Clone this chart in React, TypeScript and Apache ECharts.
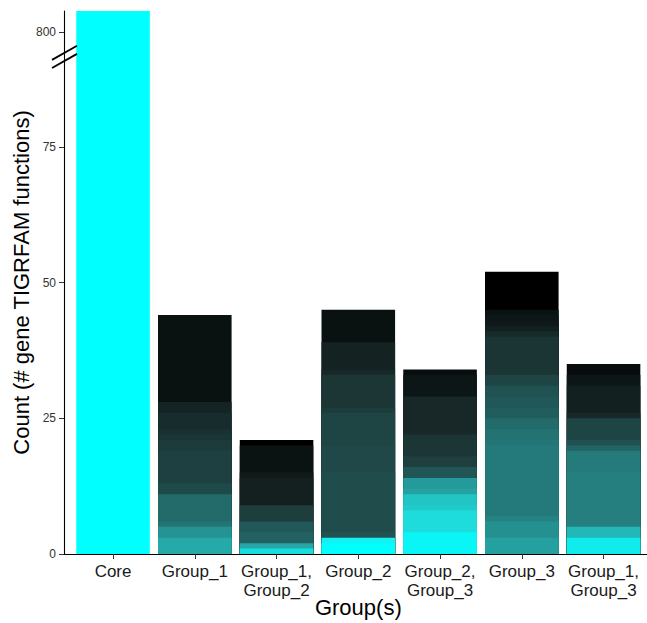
import React, { useEffect, useRef } from 'react';
import * as echarts from 'echarts';

// ---------- data ----------
const categories = ['Core', 'Group_1', 'Group_1,\nGroup_2', 'Group_2', 'Group_2,\nGroup_3', 'Group_3', 'Group_1,\nGroup_3'];

// segment counts per bar, bottom -> top
const coreCounts = [820];
const group1Counts = [3, 2, 1, 5, 2, 6, 2, 1, 1, 3, 2, 16];
const group1_2Counts = [1, 1, 2, 2, 3, 5, 1, 5, 1];
const group2Counts = [2, 1, 1, 11, 5, 6, 1, 6, 1, 5, 6];
const group2_3Counts = [4, 4, 1, 2, 1, 2, 2, 2, 4, 7, 4, 1];
const group3Counts = [3, 3, 1, 13, 1, 2, 2, 2, 2, 2, 2, 7, 1, 1, 1, 1, 1, 7];
const group1_3Counts = [3, 2, 10, 4, 1, 1, 4, 1, 5, 2, 2];

// segment fills per bar, bottom -> top
const coreColors = ['#00ffff'];
const group1Colors = ['#25a9a9', '#259393', '#247474', '#236b6b', '#1f4a4a', '#1f4040', '#1d3b3b', '#1b3434', '#193131', '#172c2c', '#142424', '#0a1211'];
const group1_2Colors = ['#19dcdc', '#26a6a6', '#236262', '#235858', '#1e3e3e', '#142020', '#111919', '#0b1212', '#000000'];
const group2Colors = ['#00ffff', '#12f2f2', '#225252', '#214c4c', '#204848', '#1f4444', '#1d3c3c', '#1c3535', '#162828', '#142222', '#0a1211'];
const group2_3Colors = ['#0af5f5', '#1edcdc', '#21caca', '#22c4c4', '#24a2a2', '#259a9a', '#215656', '#1f3e3e', '#1c3535', '#182828', '#0d1616', '#070c0c'];
const group3Colors = ['#25a0a0', '#259090', '#258282', '#247a7a', '#247676', '#247373', '#236a6a', '#225d5d', '#215757', '#205252', '#1e4444', '#1b3434', '#172a2a', '#122020', '#0f1919', '#0d1616', '#0a1313', '#000000'];
const group1_3Colors = ['#12ebeb', '#23b8b8', '#257f7f', '#257a7a', '#236565', '#205252', '#1e4444', '#182828', '#132020', '#0d1616', '#080c0c'];

const yTickLabels = [0, 25, 50, 75, 800];

// ---------- broken-axis transform ----------
const LOWER_MAX = 90; // lower panel covers 0..90
const UPPER_MIN = 780;
const UPPER_MAX = 820;
const UPPER_T0 = 92.26;
const Y_MAX = 100;
const toT = (v: number) =>
  v <= LOWER_MAX ? v : UPPER_T0 + ((v - UPPER_MIN) * (Y_MAX - UPPER_T0)) / (UPPER_MAX - UPPER_MIN);
const fromT = (t: number) =>
  t <= LOWER_MAX + 1 ? t : UPPER_MIN + ((t - UPPER_T0) * (UPPER_MAX - UPPER_MIN)) / (Y_MAX - UPPER_T0);

const allCounts = [coreCounts, group1Counts, group1_2Counts, group2Counts, group2_3Counts, group3Counts, group1_3Counts];
const allColors = [coreColors, group1Colors, group1_2Colors, group2Colors, group2_3Colors, group3Colors, group1_3Colors];

const FONT = '"Liberation Sans", Arial, Helvetica, sans-serif';

export default function App() {
  const ref = useRef<HTMLDivElement>(null);
  useEffect(() => {
    if (!ref.current) return;
    const chart = echarts.init(ref.current, undefined, { renderer: 'svg' });

    // layout (ggplot-like discrete expansion of 0.6 band on each side)
    const band = 81.75;
    const frameLeft = 64;
    const top = 11;
    const height = 543;

    // cumulative tops of each segment (transformed onto the broken axis)
    const cumTops = allCounts.map((counts) => {
      let cum = 0;
      return counts.map((c) => {
        cum += c;
        return toT(cum);
      });
    });
    // Layered drawing: layer j = j-th segment from the top, drawn as a full bar
    // from 0 to its cumulative top; later (shorter) layers cover earlier ones.
    const maxSeg = Math.max(...allCounts.map((c) => c.length));
    const series: any[] = [];
    for (let j = 0; j < maxSeg; j++) {
      series.push({
        type: 'bar',
        xAxisIndex: 0,
        yAxisIndex: 0,
        barWidth: band * 0.9,
        barGap: '-100%',
        z: 2 + j,
        data: categories.map((_, i) => {
          const n = cumTops[i].length;
          const k = n - 1 - j;
          return k >= 0 ? { value: cumTops[i][k], itemStyle: { color: allColors[i][k] } } : '-';
        }),
      });
    }

    const yPix = (t: number) => top + height * (1 - t / Y_MAX);

    chart.setOption({
      animation: false,
      grid: [
        { left: frameLeft + 0.1 * band, top, width: band * 7, height, outerBoundsMode: 'none', containLabel: false },
        { left: frameLeft, top, width: band * 7.2, height, outerBoundsMode: 'none', containLabel: false },
      ],
      xAxis: [
        {
          type: 'category',
          gridIndex: 0,
          data: categories,
          axisLine: { show: false },
          axisTick: { show: true, alignWithLabel: true, length: 5, lineStyle: { color: '#333', width: 1 } },
          axisLabel: { interval: 0, fontSize: 17, lineHeight: 19, color: '#1a1a1a', margin: 8, fontFamily: FONT },
          name: 'Group(s)',
          nameLocation: 'middle',
          nameGap: 42,
          nameMoveOverlap: false,
          nameTextStyle: { fontSize: 22, color: '#000', fontFamily: FONT },
        },
        {
          type: 'value',
          gridIndex: 1,
          min: 0.4,
          max: 7.6,
          axisLine: { show: true, lineStyle: { color: '#000', width: 1.1 } },
          axisTick: { show: false },
          axisLabel: { show: false },
          splitLine: { show: false },
        },
      ],
      yAxis: [
        { type: 'value', gridIndex: 0, min: 0, max: Y_MAX, show: false, splitLine: { show: false } },
        {
          type: 'value',
          gridIndex: 1,
          min: 0,
          max: Y_MAX,
          splitLine: { show: false },
          axisLine: { show: true, lineStyle: { color: '#000', width: 1.1 } },
          axisTick: {
            show: true,
            length: 5,
            lineStyle: { color: '#333', width: 1 },
            customValues: yTickLabels.map(toT),
          },
          axisLabel: {
            fontSize: 12,
            color: '#333',
            margin: 8,
            fontFamily: FONT,
            customValues: yTickLabels.map(toT),
            formatter: (v: number) => String(Math.round(fromT(v))),
          },
          name: 'Count (# gene TIGRFAM functions)',
          nameLocation: 'middle',
          nameGap: 32,
          nameMoveOverlap: false,
          nameTextStyle: { fontSize: 22, color: '#000', fontFamily: FONT },
        },
      ],
      graphic: [
        {
          type: 'line',
          z: 100,
          shape: { x1: frameLeft - 12, y1: yPix(91.0), x2: frameLeft + 13, y2: yPix(93.6) },
          style: { stroke: '#000', lineWidth: 1.8 },
        },
        {
          type: 'line',
          z: 100,
          shape: { x1: frameLeft - 12, y1: yPix(89.5), x2: frameLeft + 13, y2: yPix(92.1) },
          style: { stroke: '#000', lineWidth: 1.8 },
        },
      ],
      series,
    });
    return () => chart.dispose();
  }, []);
  return (
    <div
      ref={ref}
      style={{ position: 'fixed', left: 0, top: 0, width: 647, height: 623, background: '#fff' }}
    />
  );
}
